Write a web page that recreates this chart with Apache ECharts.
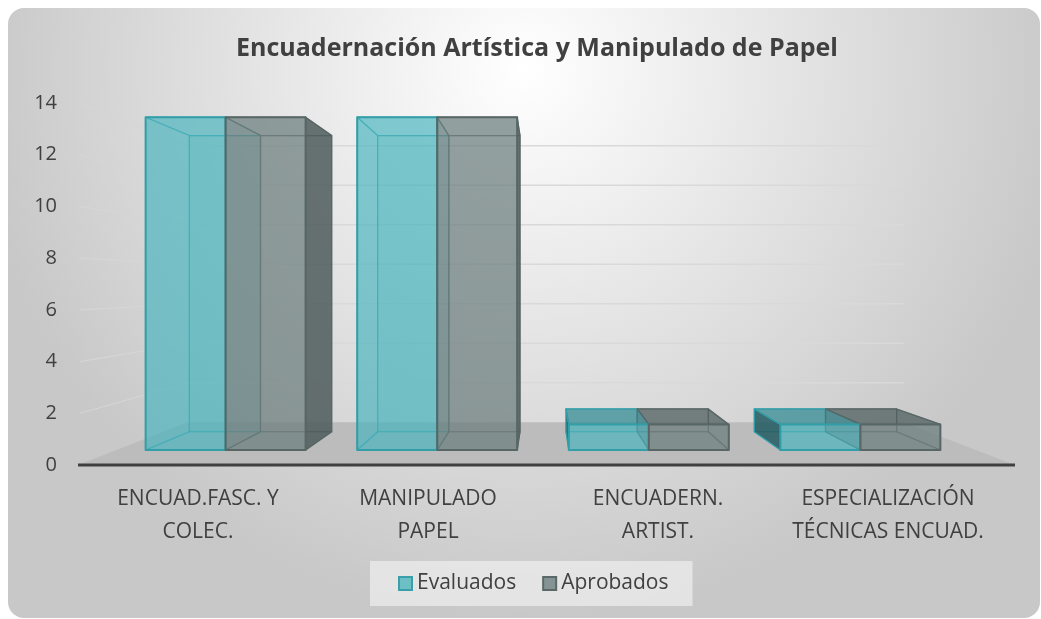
<!DOCTYPE html>
<html>
<head>
<meta charset="utf-8">
<script src="https://cdn.jsdelivr.net/npm/echarts@6/dist/echarts.min.js"></script>
<style>
  html, body { margin: 0; padding: 0; background: #fff; }
  #chart { width: 1041px; height: 619px; }
</style>
</head>
<body>
<div id="chart"></div>
<script>
// data
var categories = ['ENCUAD.FASC. Y\nCOLEC.', 'MANIPULADO\nPAPEL', 'ENCUADERN.\nARTIST.', 'ESPECIALIZACIÓN\nTÉCNICAS ENCUAD.'];
var evaluados = [13, 13, 1, 1];
var aprobados = [13, 13, 1, 1];
var yTicks = [0, 2, 4, 6, 8, 10, 12, 14];

// fake 3d: everything is projected toward a vanishing point
var FRONT_S = 0.92;   // bar front plane, relative to the axis plane
var BAR_DEPTH = 0.89; // bar back face, relative to its front
var FLOOR_S = 0.764;  // floor back edge / back wall
var BAR_LIFT = 15;
var Y_SCALE = 0.99;
var BAR_FRAC = 0.378;

var looks = {
  evaluados: {
    front: 'rgba(70,180,190,0.6)', back: 'rgba(60,170,180,0.25)',
    inside: 'rgba(60,170,180,0.15)', outside: 'rgba(30,85,92,0.8)', top: 'rgba(40,130,140,0.6)',
    edge: 'rgb(50,158,168)', edgeIn: 'rgba(50,158,168,0.6)'
  },
  aprobados: {
    front: 'rgba(110,128,128,0.6)', back: 'rgba(95,110,110,0.3)',
    inside: 'rgba(90,105,105,0.3)', outside: 'rgba(75,88,88,0.78)', top: 'rgba(70,85,85,0.6)',
    edge: 'rgb(88,102,102)', edgeIn: 'rgba(88,102,102,0.6)'
  }
};

function vanish(api) {
  var a = api.coord([1, 7]), b = api.coord([2, 7]);
  return [(a[0] + b[0]) / 2, a[1]];
}

function poly(points, fill, stroke, lw, z2) {
  return { type: 'polygon', z2: z2, shape: { points: points },
    style: { fill: fill, stroke: stroke, lineWidth: lw, lineJoin: 'round' } };
}

function boxRenderer(side, look) {
  return function (params, api) {
    var i = api.value(0), v = api.value(1);
    var base = api.coord([i, 0]);
    var top = api.coord([i, v]);
    var vp = vanish(api);
    var w = api.size([1, 0])[0] * BAR_FRAC;
    var x0 = side < 0 ? base[0] - w : base[0];
    var x1 = x0 + w;
    var fx = function (x) { return vp[0] + (x - vp[0]) * FRONT_S; };
    var yB = base[1] - BAR_LIFT;
    var yT = yB - (base[1] - top[1]) * Y_SCALE;
    var back = function (p) {
      return [vp[0] + (p[0] - vp[0]) * BAR_DEPTH, vp[1] + (p[1] - vp[1]) * BAR_DEPTH];
    };
    var flt = [fx(x0), yT], frt = [fx(x1), yT], frb = [fx(x1), yB], flb = [fx(x0), yB];
    var blt = back(flt), brt = back(frt), brb = back(frb), blb = back(flb);

    var kids = [];
    kids.push(poly([blt, brt, brb, blb], look.back, look.edgeIn, 1.2, 10));
    kids.push(poly([flb, frb, brb, blb], look.inside, look.edgeIn, 1.2, 20));

    // left face (the shared wall belongs to the right-hand box)
    var leftOut = flt[0] > vp[0];
    if (side > 0) {
      kids.push(poly([flt, blt, blb, flb], look.inside, look.edgeIn, 1.2, 20));
    } else {
      kids.push(poly([flt, blt, blb, flb], leftOut ? look.outside : look.inside,
        leftOut ? look.edge : look.edgeIn, 1.2, leftOut ? 30 : 20));
    }
    // right face
    if (side > 0) {
      var rightOut = frt[0] < vp[0];
      kids.push(poly([frt, brt, brb, frb], rightOut ? look.outside : look.inside,
        rightOut ? look.edge : look.edgeIn, 1.2, rightOut ? 30 : 20));
    }
    // top face
    var topOut = yT > vp[1];
    kids.push(poly([flt, frt, brt, blt], topOut ? look.top : look.inside,
      topOut ? look.edge : look.edgeIn, 1.2, topOut ? 30 : 20));

    kids.push(poly([flt, frt, frb, flb], look.front, look.edge, 2, 40));
    return { type: 'group', children: kids };
  };
}

function renderRoom(params, api) {
  var vp = vanish(api);
  var half = api.size([1, 0])[0] / 2;
  var y0 = api.coord([0, 0])[1];
  var xL = api.coord([0, 0])[0] - half - 5;
  var xR = api.coord([categories.length - 1, 0])[0] + half + 12;
  var dep = function (p) {
    return [vp[0] + (p[0] - vp[0]) * FLOOR_S, vp[1] + (p[1] - vp[1]) * FLOOR_S];
  };
  var bl = dep([xL, y0]), br = dep([xR, y0]);
  var kids = [];
  kids.push({ type: 'polygon', z2: 1, shape: { points: [[xL, y0], [xR, y0], br, bl] },
    style: { fill: '#bcbcbc' } });
  yTicks.forEach(function (t) {
    if (t === 0) return;
    var yl = api.coord([0, t])[1];
    var b = dep([xL, yl]);
    kids.push({ type: 'line', z2: 2, shape: { x1: b[0], y1: b[1], x2: br[0], y2: b[1] },
      style: { stroke: '#d9d9d9', lineWidth: 1.5 } });
    kids.push({ type: 'line', z2: 2, shape: { x1: xL + 2, y1: yl, x2: b[0], y2: b[1] },
      style: { stroke: 'rgba(214,214,214,0.9)', lineWidth: 1.2 } });
  });
  kids.push({ type: 'line', z2: 3, shape: { x1: xL, y1: y0, x2: xR, y2: y0 },
    style: { stroke: '#404040', lineWidth: 3 } });
  return { type: 'group', children: kids };
}

var chart = echarts.init(document.getElementById('chart'));

var option = {
  textStyle: { fontFamily: 'Open Sans' },
  graphic: [{
    type: 'rect', z: -10, silent: true,
    shape: { x: 8, y: 8, width: 1032, height: 610, r: 16 },
    style: {
      fill: {
        type: 'radial', x: 0.5, y: 0.1, r: 0.9,
        colorStops: [{ offset: 0, color: '#ffffff' }, { offset: 1, color: '#c8c8c8' }]
      }
    }
  }],
  title: {
    text: 'Encuadernación Artística y Manipulado de Papel',
    left: 532, top: 31, textAlign: 'center',
    textStyle: { fontSize: 25, fontWeight: 'bold', color: '#404040', fontFamily: 'Open Sans' }
  },
  legend: {
    data: ['Evaluados', 'Aprobados'],
    bottom: 13, left: 370,
    icon: 'rect', itemWidth: 13, itemHeight: 13, itemGap: 26,
    backgroundColor: 'rgba(236,236,236,0.75)',
    padding: [12, 24, 12, 28],
    textStyle: { fontSize: 21, color: '#404040', fontFamily: 'Open Sans' }
  },
  grid: { left: 83, right: 38, top: 103, bottom: 154, outerBoundsMode: 'none' },
  xAxis: {
    type: 'category', data: categories,
    axisLine: { show: false }, axisTick: { show: false },
    axisLabel: { interval: 0, margin: 18, fontSize: 21, lineHeight: 33, color: '#404040' }
  },
  yAxis: {
    type: 'value', min: 0, max: 14, interval: 2,
    axisLine: { show: false }, axisTick: { show: false }, splitLine: { show: false },
    axisLabel: { margin: 26, fontSize: 20, color: '#404040' }
  },
  series: [
    {
      type: 'custom', name: 'room', z: 1, silent: true,
      renderItem: renderRoom, data: [[0, 0]], encode: { x: 0, y: 1 }
    },
    {
      type: 'custom', name: 'Evaluados', z: 2,
      renderItem: boxRenderer(-1, looks.evaluados),
      itemStyle: { color: '#6dbfc6', borderColor: '#3a9fa8', borderWidth: 1.5 },
      data: evaluados.map(function (v, i) { return [i, v]; }),
      encode: { x: 0, y: 1 }
    },
    {
      type: 'custom', name: 'Aprobados', z: 2,
      renderItem: boxRenderer(1, looks.aprobados),
      itemStyle: { color: '#849494', borderColor: '#5a6868', borderWidth: 1.5 },
      data: aprobados.map(function (v, i) { return [i, v]; }),
      encode: { x: 0, y: 1 }
    }
  ]
};

chart.setOption(option);
</script>
</body>
</html>
